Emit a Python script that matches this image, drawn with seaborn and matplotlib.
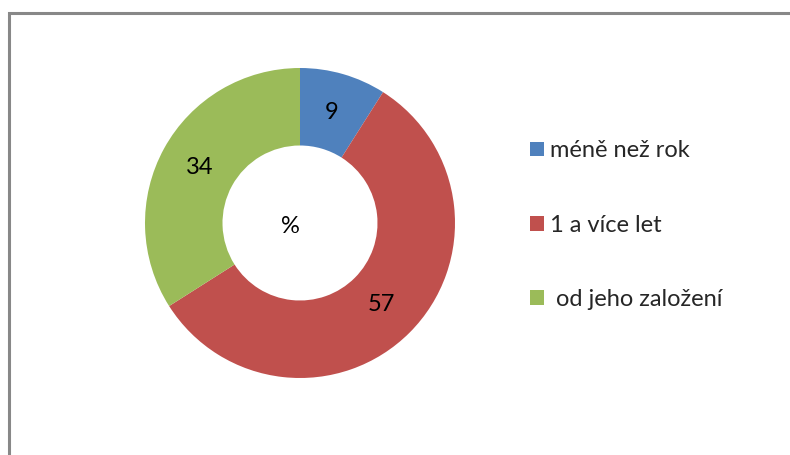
import matplotlib
matplotlib.use("Agg")
import matplotlib.pyplot as plt
import seaborn as sns
from matplotlib.patches import Rectangle, Patch

sns.set_theme(style="white")
plt.rcParams['font.family'] = ['Lato', 'DejaVu Sans']

categories = ["méně než rok", "1 a více let", " od jeho založení"]
values = [9, 57, 34]
colors = ["#4F81BD", "#C0504D", "#9BBB59"]
center_label = "%"

W, H = 790, 455
fig = plt.figure(figsize=(W / 100, H / 100), dpi=100)
fig.patch.set_facecolor("white")

# donut centred at (300, 223) px, outer radius 155 px
cx, cy, r = 300, 223, 155
ax = fig.add_axes([(cx - r) / W, (H - cy - r) / H, 2 * r / W, 2 * r / H])

labels_iter = iter(values)
wedges, texts, autotexts = ax.pie(
    values, colors=colors, startangle=90, counterclock=False,
    radius=1.0, wedgeprops=dict(width=0.5, linewidth=0),
    autopct=lambda p: f"{next(labels_iter)}", pctdistance=0.74,
    textprops=dict(fontsize=17, color="black"))
ax.set_xlim(-1, 1)
ax.set_ylim(-1, 1)
ax.set_aspect("equal")
ax.axis("off")
ax.text(-0.06, -0.02, center_label, ha="center", va="center", fontsize=17, color="black")

handles = [Patch(facecolor=c, edgecolor="none") for c in colors]
fig.legend(handles, categories, loc="upper left",
           bbox_to_anchor=(521 / W, 1 - 131 / H), frameon=False,
           fontsize=17, labelspacing=2.25, handlelength=0.58, handleheight=0.58,
           handletextpad=0.25, borderaxespad=0)

# outer chart border (left and top visible)
fig.patches.append(Rectangle((9 / W, -0.1), 1.2, (H - 13) / H + 0.1,
                             transform=fig.transFigure, fill=False,
                             edgecolor="#888888", linewidth=2.2))

fig.savefig("out.png", dpi=100)
